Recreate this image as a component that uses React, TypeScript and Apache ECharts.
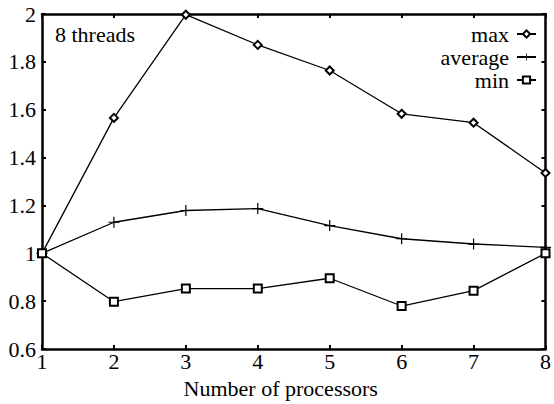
import React, { useEffect, useRef } from "react";
import * as echarts from "echarts";

const processors = [1, 2, 3, 4, 5, 6, 7, 8];
const maxValues = [1.0, 1.566, 1.997, 1.871, 1.764, 1.583, 1.546, 1.336];
const averageValues = [1.0, 1.13, 1.179, 1.187, 1.116, 1.061, 1.039, 1.025];
const minValues = [1.0, 0.798, 0.853, 0.853, 0.896, 0.78, 0.844, 1.0];
const seriesNames = ["max", "average", "min"];
const annotation = "8 threads";
const xTitle = "Number of processors";

const FONT = "'Liberation Serif', 'DejaVu Serif', serif";
const FS = 22;
const PLUS = "path://M0,4.45H10V5.55H0Z M4.45,0H5.55V10H4.45Z";

export default function App() {
  const ref = useRef<HTMLDivElement>(null);
  useEffect(() => {
    if (!ref.current) return;
    const chart = echarts.init(ref.current, null, { renderer: "svg" });
    const toPairs = (vals: number[]) => processors.map((p, i) => [p, vals[i]]);
    const axisLine = { show: true, lineStyle: { color: "#000", width: 2.5 } };
    const axisTick = { show: true, inside: true, length: 4, lineStyle: { color: "#000", width: 2 } };
    const lineBase = {
      type: "line",
      lineStyle: { color: "#000", width: 1.3 },
      itemStyle: { color: "#000", borderColor: "#000", borderWidth: 1.2 },
      emphasis: { disabled: true },
      z: 3,
    };
    chart.setOption({
      animation: false,
      backgroundColor: "#fff",
      textStyle: { fontFamily: FONT },
      grid: { left: 42, right: 7, top: 14, bottom: 49 },
      graphic: [
        {
          type: "text",
          left: 55,
          top: 23,
          style: { text: annotation, font: `${FS}px ${FONT}`, fill: "#000" },
        },
      ],
      legend: {
        orient: "vertical",
        right: 12,
        top: 18,
        align: "right",
        itemWidth: 19,
        itemHeight: 9,
        itemGap: 1,
        selectedMode: false,
        data: seriesNames,
        textStyle: { fontFamily: FONT, fontSize: FS, color: "#000", padding: [0, 3, 0, 0], lineHeight: 22 },
      },
      xAxis: [
        {
          type: "value",
          min: 1,
          max: 8,
          interval: 1,
          position: "bottom",
          axisLine,
          axisTick,
          splitLine: { show: false },
          axisLabel: { color: "#000", fontSize: FS, fontFamily: FONT, margin: 1 },
          name: xTitle,
          nameLocation: "middle",
          nameGap: 20,
          nameTextStyle: { color: "#000", fontSize: FS, fontFamily: FONT, padding: [0, 26, 0, 0] },
        },
        {
          type: "value",
          min: 1,
          max: 8,
          interval: 1,
          position: "top",
          axisLine,
          axisTick,
          splitLine: { show: false },
          axisLabel: { show: false },
        },
      ],
      yAxis: [
        {
          type: "value",
          min: 0.6,
          max: 2,
          interval: 0.2,
          position: "left",
          axisLine,
          axisTick,
          splitLine: { show: false },
          axisLabel: { color: "#000", fontSize: FS, fontFamily: FONT, margin: 6 },
        },
        {
          type: "value",
          min: 0.6,
          max: 2,
          interval: 0.2,
          position: "right",
          axisLine,
          axisTick,
          splitLine: { show: false },
          axisLabel: { show: false },
        },
      ],
      series: [
        { ...lineBase, name: seriesNames[0], data: toPairs(maxValues), symbol: "emptyDiamond", symbolSize: 8 },
        {
          ...lineBase,
          name: seriesNames[1],
          data: toPairs(averageValues),
          symbol: PLUS,
          symbolSize: 11,
          itemStyle: { color: "#000", borderWidth: 0 },
        },
        { ...lineBase, name: seriesNames[2], data: toPairs(minValues), symbol: "emptyRect", symbolSize: 8 },
      ],
    });
    return () => chart.dispose();
  }, []);
  return (
    <div
      ref={ref}
      style={{ position: "fixed", left: 0, top: 0, width: 554, height: 404, background: "#fff" }}
    />
  );
}
